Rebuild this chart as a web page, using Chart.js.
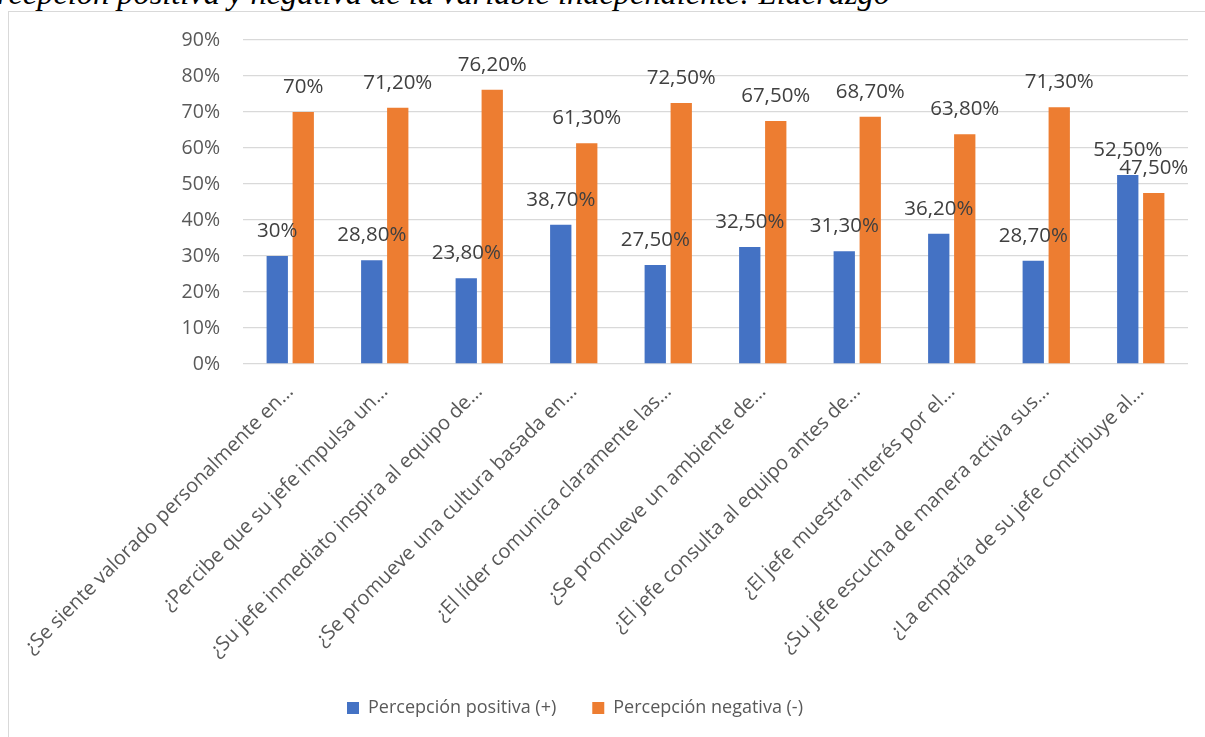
<!DOCTYPE html>
<html>
<head>
<meta charset="utf-8">
<script src="https://cdn.jsdelivr.net/npm/chart.js@4.4.1/dist/chart.umd.min.js"></script>
<style>
    html, body { margin: 0; padding: 0; background: #fff; overflow: hidden; }
    #wrap { position: relative; width: 1205px; height: 737px; overflow: hidden; }
    #caption {
        position: absolute; right: 315px; top: -23px;
        font: italic 32.4px/32px "Liberation Serif", "Times New Roman", serif;
        color: #000; white-space: nowrap;
    }
    #frame {
        position: absolute; left: 8px; top: 11px; width: 1400px; height: 900px;
        border-left: 1.5px solid #d9d9d9; border-top: 1.5px solid #d9d9d9;
    }
    #box { position: absolute; left: 0; top: 0; width: 1205px; height: 737px; }
</style>
</head>
<body>
<div id="wrap">
    <div id="caption">Percepción positiva y negativa de la variable independiente: Liderazgo</div>
    <div id="frame"></div>
    <div id="box"><canvas id="liderazgo"></canvas></div>
</div>
<script>
const categories = [
    '¿Se siente valorado personalmente en…',
    '¿Percibe que su jefe impulsa un…',
    '¿Su jefe inmediato inspira al equipo de…',
    '¿Se promueve una cultura basada en…',
    '¿El líder comunica claramente las…',
    '¿Se promueve un ambiente de…',
    '¿El jefe consulta al equipo antes de…',
    '¿El jefe muestra interés por el…',
    '¿Su jefe escucha de manera activa sus…',
    '¿La empatía de su jefe contribuye al…'
];
const positiva = [30, 28.8, 23.8, 38.7, 27.5, 32.5, 31.3, 36.2, 28.7, 52.5];
const negativa = [70, 71.2, 76.2, 61.3, 72.5, 67.5, 68.7, 63.8, 71.3, 47.5];
const seriesNames = ['Percepción positiva (+)', 'Percepción negativa (-)'];
const yMax = 90;
const yStep = 10;

// Excel style: whole numbers without decimals, the rest with two (comma decimal)
function pct(v) {
    return Number.isInteger(v) ? v + '%' : v.toFixed(2).replace('.', ',') + '%';
}

// values above each bar
const barLabels = {
    id: 'barLabels',
    afterDatasetsDraw(chart) {
        const ctx = chart.ctx;
        ctx.save();
        ctx.font = '20.5px "Open Sans"';
        ctx.fillStyle = '#404040';
        ctx.textAlign = 'center';
        ctx.textBaseline = 'middle';
        chart.data.datasets.forEach((ds, i) => {
            chart.getDatasetMeta(i).data.forEach((bar, j) => {
                ctx.fillText(pct(ds.data[j]), bar.x, bar.y - 25);
            });
        });
        ctx.restore();
    }
};

// legend sits centred on the chart box, not on the canvas
const legendShift = {
    id: 'legendShift',
    afterLayout(chart) {
        chart.legend.right = 1150;
    }
};

document.addEventListener('DOMContentLoaded', () => {
    Chart.defaults.font.family = '"Open Sans"';
    Chart.defaults.color = '#595959';

    new Chart(document.getElementById('liderazgo'), {
        type: 'bar',
        data: {
            labels: categories,
            datasets: [
                { label: seriesNames[0], data: positiva, backgroundColor: '#4472c4' },
                { label: seriesNames[1], data: negativa, backgroundColor: '#ed7d31' }
            ]
        },
        options: {
            responsive: true,
            maintainAspectRatio: false,
            animation: false,
            categoryPercentage: 0.55,
            barPercentage: 0.82,
            layout: { padding: { left: 0, right: 17, top: 40, bottom: 10 } },
            plugins: {
                legend: {
                    position: 'bottom',
                    labels: { boxWidth: 12, boxHeight: 12, padding: 36, font: { size: 18 }, color: '#595959' }
                },
                tooltip: { enabled: false }
            },
            scales: {
                x: {
                    grid: { display: false },
                    border: { display: false },
                    ticks: { autoSkip: false, minRotation: 45, maxRotation: 45, padding: 8, font: { size: 20 } },
                    afterFit: (scale) => { scale.height = 299; }
                },
                y: {
                    min: 0,
                    max: yMax,
                    grid: { color: '#d9d9d9', lineWidth: 1.3, drawTicks: false },
                    border: { display: false },
                    ticks: { stepSize: yStep, padding: 23, font: { size: 19.5 }, callback: (v) => v + '%' },
                    afterFit: (scale) => { scale.width = 243; }
                }
            }
        },
        plugins: [barLabels, legendShift]
    });
});
</script>
</body>
</html>
